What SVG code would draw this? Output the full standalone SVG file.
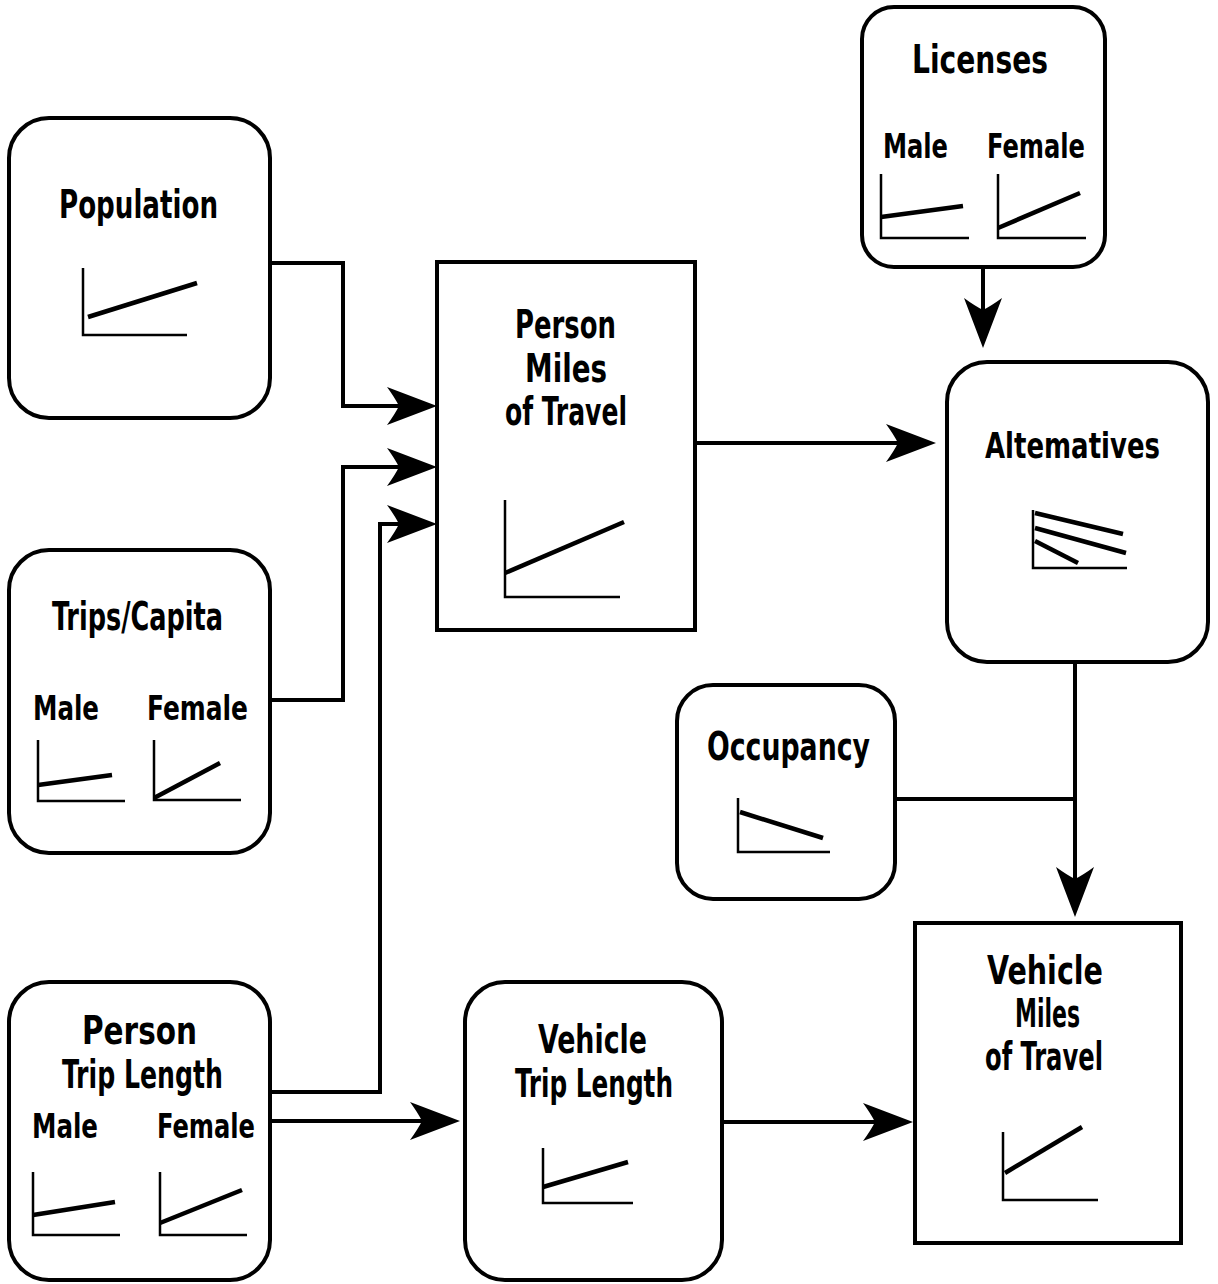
<svg xmlns="http://www.w3.org/2000/svg" width="1218" height="1284" viewBox="0 0 1218 1284">
<style>
.box{fill:#fff;stroke:#000;stroke-width:4}
.conn{fill:none;stroke:#000;stroke-width:4}
.axis{fill:none;stroke:#000;stroke-width:2.5}
.trend{fill:none;stroke:#000;stroke-width:4.5}
.t{font-family:"Liberation Sans Narrow","DejaVu Sans Condensed","Liberation Sans",sans-serif;font-weight:bold;font-size:39px;text-anchor:middle;fill:#000}
.s{font-family:"Liberation Sans Narrow","DejaVu Sans Condensed","Liberation Sans",sans-serif;font-weight:bold;font-size:34px;text-anchor:middle;fill:#000}
</style>
<defs>
<marker id="ah" markerUnits="userSpaceOnUse" viewBox="-42 -21 54 42" refX="0" refY="0" markerWidth="54" markerHeight="42" orient="auto">
<path d="M10,0 L-40,-19 Q-32,-8 -28,0 Q-32,8 -40,19 Z" fill="#000"/>
</marker>
</defs>
<rect width="1218" height="1284" fill="#fff"/>

<g id="connectors">
<path class="conn" d="M270,263 H343 V406 H427" marker-end="url(#ah)"/>
<path class="conn" d="M270,700 H343 V467 H427" marker-end="url(#ah)"/>
<path class="conn" d="M270,1092 H380 V524 H427" marker-end="url(#ah)"/>
<path class="conn" d="M270,1121 H450" marker-end="url(#ah)"/>
<path class="conn" d="M722,1122 H903" marker-end="url(#ah)"/>
<path class="conn" d="M695,443 H926" marker-end="url(#ah)"/>
<path class="conn" d="M983,267 V338" marker-end="url(#ah)"/>
<path class="conn" d="M1075,662 V907" marker-end="url(#ah)"/>
<path class="conn" d="M895,799 H1075"/>
</g>

<g id="population">
<rect class="box" x="9" y="118" width="261" height="300" rx="40"/>
<text class="t" x="138.5" y="218" textLength="159" lengthAdjust="spacingAndGlyphs">Population</text>
<path class="axis" d="M83,268 V335 H187"/>
<path class="trend" d="M88,317 L197,283"/>
</g>

<g id="trips-capita">
<rect class="box" x="9" y="550" width="261" height="303" rx="40"/>
<text class="t" x="137.5" y="630" textLength="171" lengthAdjust="spacingAndGlyphs">Trips/Capita</text>
<text class="s" x="66" y="720" textLength="66" lengthAdjust="spacingAndGlyphs">Male</text>
<text class="s" x="197.5" y="720" textLength="101" lengthAdjust="spacingAndGlyphs">Female</text>
<path class="axis" d="M38,740 V801 H125"/>
<path class="trend" d="M38,785 L112,775"/>
<path class="axis" d="M154,740 V800 H241"/>
<path class="trend" d="M154,798 L220,763"/>
</g>

<g id="person-trip-length">
<rect class="box" x="9" y="982" width="261" height="298" rx="40"/>
<text class="t" x="139.5" y="1044" textLength="115" lengthAdjust="spacingAndGlyphs">Person</text>
<text class="t" x="142.5" y="1088" textLength="161" lengthAdjust="spacingAndGlyphs">Trip Length</text>
<text class="s" x="65" y="1138" textLength="66" lengthAdjust="spacingAndGlyphs">Male</text>
<text class="s" x="206" y="1138" textLength="98" lengthAdjust="spacingAndGlyphs">Female</text>
<path class="axis" d="M33,1172 V1235 H120"/>
<path class="trend" d="M33,1215 L115,1202"/>
<path class="axis" d="M160,1172 V1235 H247"/>
<path class="trend" d="M160,1223 L242,1190"/>
</g>

<g id="person-miles-of-travel">
<rect class="box" x="437" y="262" width="258" height="368"/>
<text class="t" x="565.5" y="338" textLength="101" lengthAdjust="spacingAndGlyphs">Person</text>
<text class="t" x="566" y="382" textLength="82" lengthAdjust="spacingAndGlyphs">Miles</text>
<text class="t" x="566" y="425" textLength="122" lengthAdjust="spacingAndGlyphs">of Travel</text>
<path class="axis" d="M505,500 V597 H620"/>
<path class="trend" d="M505,573 L624,522"/>
</g>

<g id="vehicle-trip-length">
<rect class="box" x="465" y="982" width="257" height="298" rx="40"/>
<text class="t" x="592.5" y="1053" textLength="109" lengthAdjust="spacingAndGlyphs">Vehicle</text>
<text class="t" x="594" y="1097" textLength="158" lengthAdjust="spacingAndGlyphs">Trip Length</text>
<path class="axis" d="M543,1148 V1203 H633"/>
<path class="trend" d="M543,1187 L628,1162"/>
</g>

<g id="licenses">
<rect class="box" x="862" y="7" width="243" height="260" rx="32"/>
<text class="t" x="980" y="73" textLength="136" lengthAdjust="spacingAndGlyphs">Licenses</text>
<text class="s" x="915.5" y="158" textLength="65" lengthAdjust="spacingAndGlyphs">Male</text>
<text class="s" x="1036" y="158" textLength="98" lengthAdjust="spacingAndGlyphs">Female</text>
<path class="axis" d="M881,174 V238 H969"/>
<path class="trend" d="M881,217 L963,206"/>
<path class="axis" d="M998,174 V238 H1086"/>
<path class="trend" d="M998,228 L1080,193"/>
</g>

<g id="alternatives">
<rect class="box" x="947" y="362" width="261" height="300" rx="40"/>
<text class="t" x="1072.5" y="458" style="font-size:36px" textLength="175" lengthAdjust="spacingAndGlyphs">Altematives</text>
<path class="axis" d="M1033,510 V568 H1127"/>
<path class="trend" d="M1035,513 L1123,534"/>
<path class="trend" d="M1035,528 L1126,553"/>
<path class="trend" d="M1035,541 L1078,563"/>
</g>

<g id="occupancy">
<rect class="box" x="677" y="685" width="218" height="214" rx="36"/>
<text class="t" x="788.5" y="760" textLength="163" lengthAdjust="spacingAndGlyphs">Occupancy</text>
<path class="axis" d="M738,798 V852 H830"/>
<path class="trend" d="M740,812 L823,838"/>
</g>

<g id="vehicle-miles-of-travel">
<rect class="box" x="915" y="923" width="266" height="320"/>
<text class="t" x="1045" y="984" textLength="116" lengthAdjust="spacingAndGlyphs">Vehicle</text>
<text class="t" x="1047.5" y="1027" textLength="65" lengthAdjust="spacingAndGlyphs">Miles</text>
<text class="t" x="1044" y="1070" textLength="118" lengthAdjust="spacingAndGlyphs">of Travel</text>
<path class="axis" d="M1003,1132 V1200 H1098"/>
<path class="trend" d="M1005,1173 L1082,1127"/>
</g>
</svg>
